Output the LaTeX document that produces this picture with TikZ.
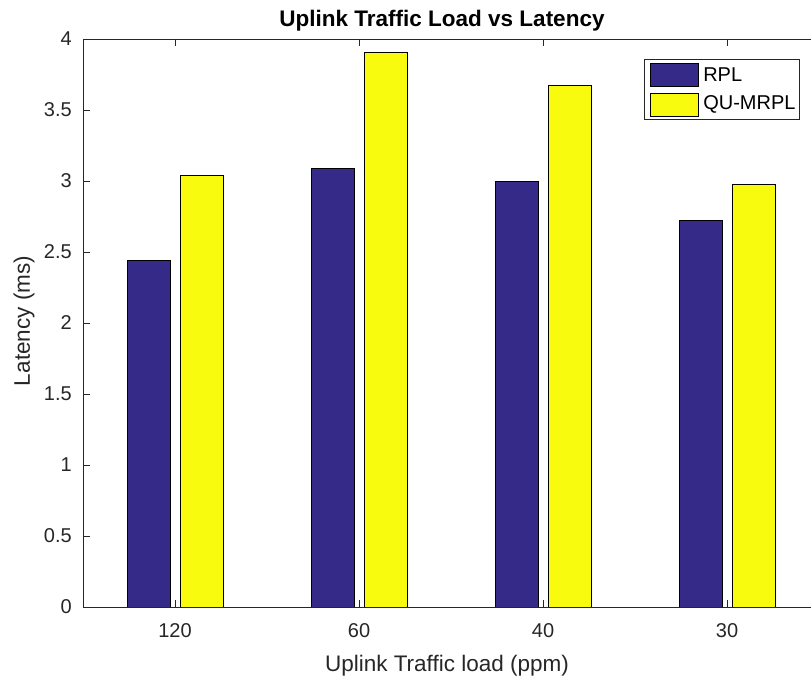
\documentclass[tikz,border=0pt]{standalone}
\usepackage{fontspec}
\setmainfont{Liberation Sans}
\usetikzlibrary{positioning}
\definecolor{rplblue}{rgb}{0.208,0.166,0.529}
\definecolor{quyellow}{rgb}{0.976,0.983,0.054}
\definecolor{axgray}{rgb}{0.15,0.15,0.15}
\tikzset{
  axln/.style={line width=0.9pt,draw=axgray},
  tickln/.style={line width=0.9pt,draw=axgray},
  rplbar/.style={fill=rplblue,draw=black,line width=0.8pt},
  qubar/.style={fill=quyellow,draw=black,line width=0.8pt},
  ticklbl/.style={font=\fontsize{20}{24}\selectfont,text=axgray,inner sep=0pt},
  axlbl/.style={font=\fontsize{22.5}{27}\selectfont,text=axgray,inner sep=0pt},
  ttl/.style={font=\fontsize{22.5}{27}\selectfont\bfseries,inner sep=0pt},
  lgdtxt/.style={font=\fontsize{20}{24}\selectfont,inner sep=0pt,anchor=west},
}
\begin{document}
\begin{tikzpicture}[x=184pt,y=142pt]
  \clip (0.0489,-0.5141) rectangle (4.4565,4.2746);
  % bars: position / RPL / QU-MRPL
  \foreach \i/\a/\b in {1/2.444/3.042, 2/3.092/3.908, 3/3.0/3.676, 4/2.725/2.979}{
    \draw[rplbar] (\i-0.2609,0) rectangle (\i-0.0272,\a);
    \draw[qubar] (\i+0.0272,0) rectangle (\i+0.2609,\b);
  }
  % axes box and ticks
  \draw[axln] (0.5,0) rectangle (4.5,4);
  \foreach \i/\t in {1/120,2/60,3/40,4/30}{
    \draw[tickln] (\i,0)--(\i,0.049);
    \draw[tickln] (\i,4)--(\i,4-0.049);
    \node[ticklbl,anchor=north] (xt\i) at (\i,-0.1127) {\t};
  }
  \foreach \v in {0,0.5,1,1.5,2,2.5,3,3.5,4}{
    \draw[tickln] (0.5,\v)--(0.538,\v);
    \node[ticklbl,anchor=east] (yt\v) at (0.44,\v) {\v};
  }
  \node[axlbl,anchor=base] (xlab) at (2.478,-0.4577) {Uplink Traffic load (ppm)};
  \node[axlbl,rotate=90] (ylab) at (0.1793,2.014) {Latency (ms)};
  \node[ttl,anchor=base] (title) at (2.451,4.0845) {Uplink Traffic Load vs Latency};
  % legend
  \draw[line width=0.8pt,draw=axgray,fill=white] (3.549,3.859) rectangle (4.391,3.437);
  \draw[rplbar] (3.582,3.831) rectangle (3.842,3.669);
  \draw[qubar] (3.582,3.620) rectangle (3.842,3.458);
  \node[lgdtxt] (lrpl) at (3.870,3.750) {RPL};
  \node[lgdtxt] (lqu) at (3.870,3.539) {QU-MRPL};
\end{tikzpicture}
\end{document}
